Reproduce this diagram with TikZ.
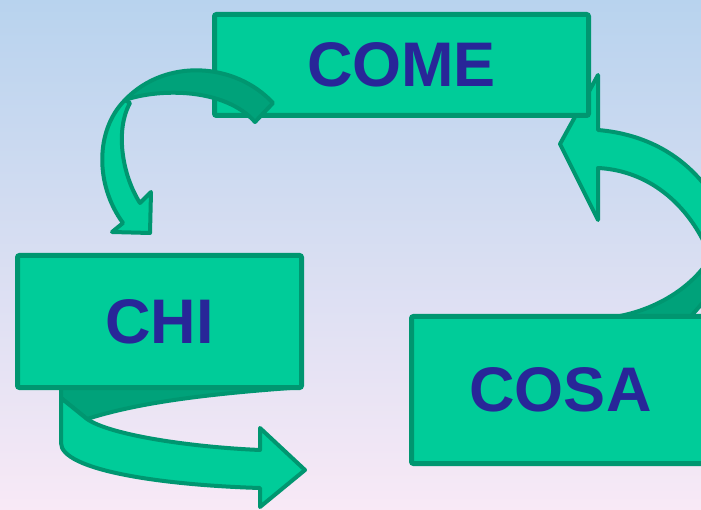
\documentclass[tikz,border=0pt]{standalone}
\usepackage{fontspec}
\setmainfont{Liberation Sans}
\definecolor{boxgreen}{RGB}{0,204,153}
\definecolor{edgegreen}{RGB}{0,150,112}
\definecolor{backgreen}{RGB}{0,162,122}
\definecolor{wordblue}{RGB}{40,38,152}
\definecolor{skytop}{RGB}{184,211,238}
\definecolor{skybottom}{RGB}{248,233,246}
\begin{document}
\begin{tikzpicture}[x=1pt,y=-1pt,
  word/.style={draw=edgegreen,fill=boxgreen,line width=5pt,rounded corners=2pt,
    font=\fontsize{63}{70}\selectfont\bfseries,text=wordblue,inner sep=0pt},
  front/.style={draw=edgegreen,fill=boxgreen,line width=4pt,line join=round},
  back/.style={draw=edgegreen,fill=backgreen,line width=4pt,line join=round}]
\useasboundingbox (0,0) rectangle (701,510);
\clip (0,0) rectangle (701,510);
\shade[top color=skytop,bottom color=skybottom] (0,0) rectangle (701,510);
% cosa -> come
\path[front] (598,130) .. controls (645,134) and (685,155) .. (712,195) -- (730,230)
  -- (710,255) .. controls (685,195) and (640,170) .. (598,168)
  -- (598,220) -- (560,144) -- (598,75) -- cycle;
\path[back] (620,316) .. controls (660,308) and (695,285) .. (712,255) -- (730,270)
  -- (712,292) -- (686,322) -- cycle;
\node[word,minimum width=374pt,minimum height=101pt] (come) at (401.5,65) {COME};
% come -> chi
\path[front] (125,100) .. controls (95,130) and (95,185) .. (123,223) -- (112,232)
  -- (150,233) -- (151,192) -- (140,203) .. controls (122,175) and (115,130) .. (130,103) -- cycle;
\path[back] (273,103) .. controls (235,62) and (165,58) .. (125,100)
  .. controls (160,88) and (225,88) .. (255,122) -- cycle;
% chi -> cosa
\path[back] (61,380) -- (61,398) -- (87,419) .. controls (140,402) and (210,394) .. (290,388)
  -- (290,380) -- cycle;
\node[word,minimum width=284pt,minimum height=132pt] (chi) at (159.5,321.5) {CHI};
\path[front] (61,398) -- (61,443) .. controls (61,470) and (160,485) .. (260,488) -- (260,507)
  -- (305,470) -- (260,428) -- (260,450) .. controls (190,447) and (110,435) .. (87,419) -- cycle;
\node[word,minimum width=298pt,minimum height=147pt] (cosa) at (560.5,390) {COSA};
\end{tikzpicture}
\end{document}
